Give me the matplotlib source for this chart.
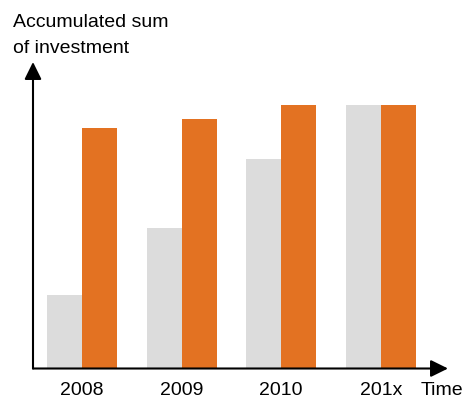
import matplotlib
matplotlib.use("Agg")
import matplotlib.pyplot as plt
import numpy as np

plt.rcParams["font.family"] = ["Liberation Sans", "DejaVu Sans"]

periods = ["2008", "2009", "2010", "201x"]
gray_vals = [74, 141, 210, 264]      # first series (light gray)
orange_vals = [241, 250, 264, 264]   # second series (orange)

GRAY = "#dcdcdc"
ORANGE = "#e37222"

fig = plt.figure(figsize=(4.64, 3.99), dpi=100)
ax = fig.add_axes([33 / 464, 1 - 368.5 / 399, (448 - 33) / 464, (368.5 - 62) / 399])

x = np.arange(len(periods))
w = 0.352
ax.bar(x - w / 2, gray_vals, w, color=GRAY, linewidth=0)
ax.bar(x + w / 2, orange_vals, w, color=ORANGE, linewidth=0)

ax.set_xlim(-0.492, 3.675)
ax.set_ylim(0, 306.5)

for s in ax.spines.values():
    s.set_visible(False)
ax.set_yticks([])
ax.set_xticks(x)
ax.set_xticklabels(periods, fontsize=14)
ax.tick_params(axis="x", length=0, pad=10)

arrow = dict(arrowstyle="-|>,head_length=0.75,head_width=0.37", lw=1.5,
             color="black", mutation_scale=14, shrinkA=0, shrinkB=0)
ax.annotate("", xy=(0, 1), xytext=(0, 0), xycoords="axes fraction",
            arrowprops=arrow, annotation_clip=False)
ax.annotate("", xy=(1, 0), xytext=(0, 0), xycoords="axes fraction",
            arrowprops=arrow, annotation_clip=False)

fig.text(13 / 464, 1 - 27 / 399, "Accumulated sum", fontsize=14,
         ha="left", va="baseline")
fig.text(13 / 464, 1 - 53 / 399, "of investment", fontsize=14,
         ha="left", va="baseline")
fig.text(421 / 464, 1 - 395 / 399, "Time", fontsize=14, ha="left", va="baseline")

fig.savefig("out.png", dpi=100)
